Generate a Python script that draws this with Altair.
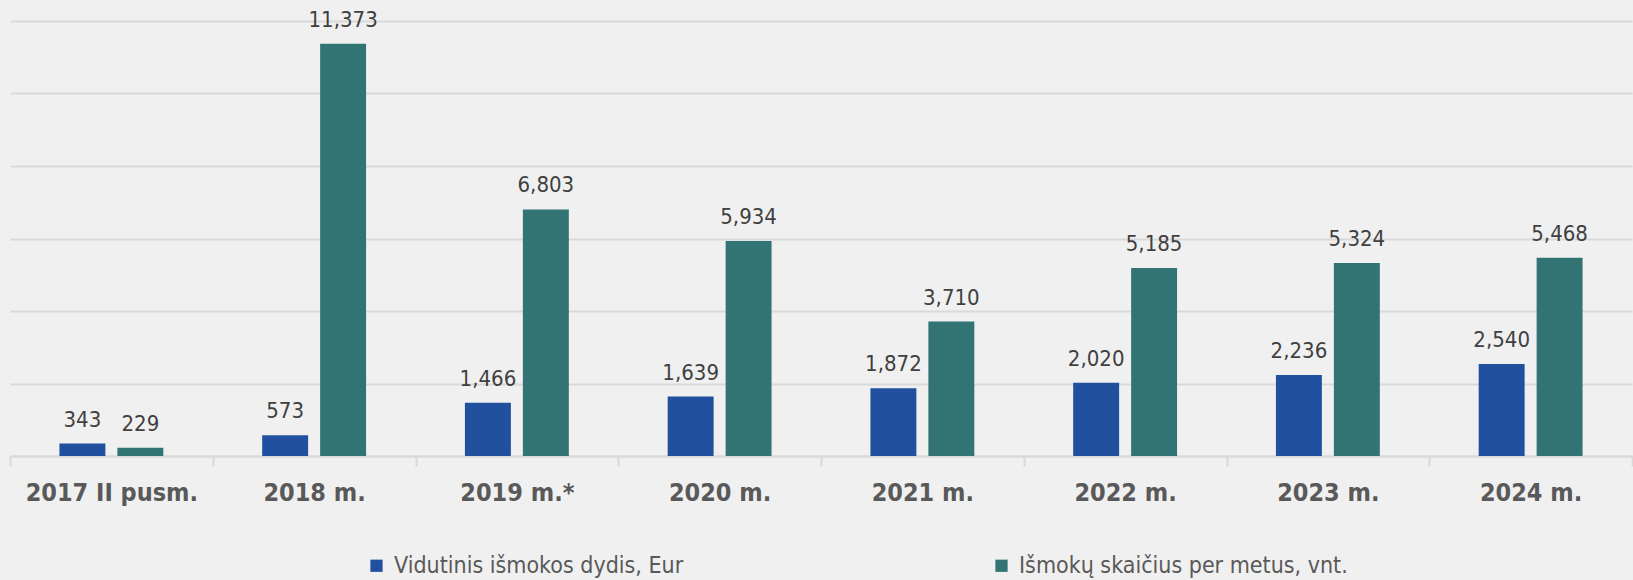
import altair as alt
import pandas as pd

categories = ["2017 II pusm.", "2018 m.", "2019 m.*", "2020 m.", "2021 m.", "2022 m.", "2023 m.", "2024 m."]
series_names = ["Vidutinis išmokos dydis, Eur", "Išmokų skaičius per metus, vnt."]
avg_payment = [343, 573, 1466, 1639, 1872, 2020, 2236, 2540]
payment_count = [229, 11373, 6803, 5934, 3710, 5185, 5324, 5468]
colors = ["#21519e", "#317473"]

rows = []
for c, a, n in zip(categories, avg_payment, payment_count):
    rows.append({"cat": c, "series": series_names[0], "value": a})
    rows.append({"cat": c, "series": series_names[1], "value": n})
df = pd.DataFrame(rows)

FONT = "DejaVu Sans Condensed"

x = alt.X("cat:N", sort=categories, title=None,
          scale=alt.Scale(paddingInner=0, paddingOuter=0),
          axis=alt.Axis(labelAngle=0, labelFont=FONT, labelFontSize=25, labelFontWeight="bold",
                        labelColor="#595959", labelPadding=14, tickBand="extent",
                        tickColor="#d9d9d9", tickWidth=2, tickSize=10,
                        domainColor="#d9d9d9", domainWidth=2))
xoff = alt.XOffset("series:N", sort=series_names,
                   scale=alt.Scale(domain=series_names, paddingInner=0.207, paddingOuter=0.853))
y = alt.Y("value:Q", title=None,
          scale=alt.Scale(domain=[0, 12000], nice=False),
          axis=alt.Axis(values=[0, 2000, 4000, 6000, 8000, 10000, 12000], labels=False, ticks=False,
                        domain=False, grid=True, gridColor="#d9d9d9", gridWidth=2))

bars = alt.Chart(df).mark_bar().encode(
    x=x, xOffset=xoff, y=y,
    color=alt.Color("series:N", sort=series_names,
                    scale=alt.Scale(domain=series_names, range=colors),
                    legend=alt.Legend(title=None, orient="none", direction="horizontal",
                                      legendX=355, legendY=533, columnPadding=306,
                                      symbolType="square", symbolSize=150, symbolStrokeWidth=0,
                                      labelFont=FONT, labelFontSize=23, labelColor="#595959",
                                      labelOffset=6, labelLimit=0, padding=0))
)

labels = alt.Chart(df).mark_text(font=FONT, fontSize=22, color="#404040",
                                 baseline="alphabetic", dy=-17).encode(
    x=x, xOffset=xoff, y=y,
    text=alt.Text("value:Q", format=",")
)

chart = alt.layer(bars, labels).properties(
    width=1622, height=435,
    autosize=alt.AutoSizeParams(type="none"),
    padding={"left": 10, "top": 21, "right": 1, "bottom": 124},
    background="#f0f0f0"
).configure_view(stroke=None)

chart.save("out.html", embed_options={"renderer": "svg", "actions": False})
